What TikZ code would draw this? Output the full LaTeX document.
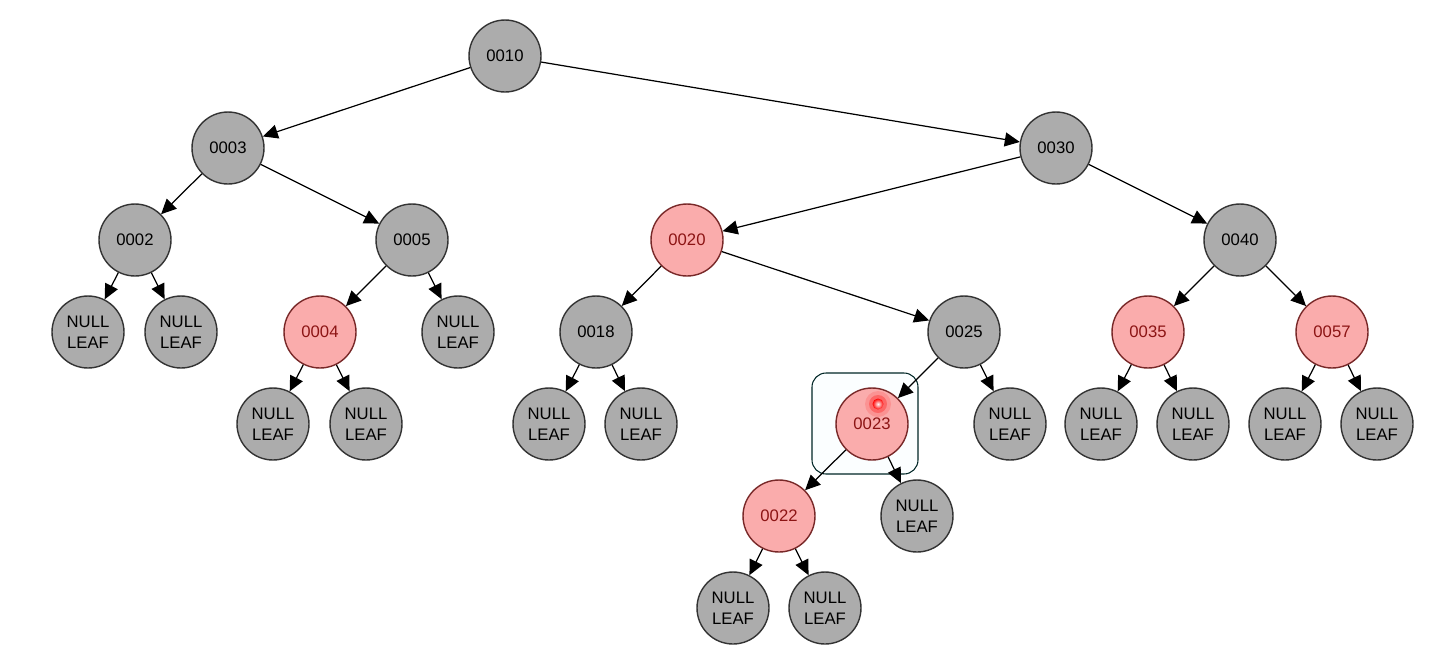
\documentclass[tikz,border=0pt]{standalone}
\usepackage{fontspec}
\setmainfont{Liberation Sans}
\usetikzlibrary{arrows.meta, positioning}

\definecolor{nodegray}{RGB}{172,172,172}
\definecolor{nodepink}{RGB}{250,172,172}
\definecolor{pinkline}{RGB}{120,40,40}
\definecolor{pinktext}{RGB}{140,20,20}

\begin{document}
\begin{tikzpicture}[
    x=0.02cm, y=-0.02cm,
    every node/.style={font=\fontsize{9.5}{12}\selectfont},
    blk/.style={circle, draw=black!80, fill=nodegray, line width=0.8pt,
                minimum size=1.44cm, inner sep=0pt, align=center},
    rd/.style={blk, draw=pinkline, fill=nodepink, text=pinktext},
    nil/.style={blk},
    arr/.style={-{Triangle[length=3mm, width=2.8mm]}, line width=0.7pt, color=black},
]
    \useasboundingbox (0,0) rectangle (1438,657);

    % selection box behind 0023
    \draw[rounded corners=8pt, draw=black!70!teal, fill=cyan!1.5, line width=0.6pt]
        (812,373) rectangle (918,474);

    % level 0-2
    \node[blk] (n10) at (505,56) {0010};
    \node[blk] (n3) at (228,148) {0003};
    \node[blk] (n30) at (1056,148) {0030};
    \node[blk] (n2) at (135,240) {0002};
    \node[blk] (n5) at (412,240) {0005};
    \node[rd] (n20) at (687,240) {0020};
    \node[blk] (n40) at (1240,240) {0040};

    % level 3
    \node[nil] (l2a) at (88,332) {NULL\\LEAF};
    \node[nil] (l2b) at (181,332) {NULL\\LEAF};
    \node[rd] (n4) at (320,332) {0004};
    \node[nil] (l5) at (458,332) {NULL\\LEAF};
    \node[blk] (n18) at (596,332) {0018};
    \node[blk] (n25) at (964,332) {0025};
    \node[rd] (n35) at (1148,332) {0035};
    \node[rd] (n57) at (1332,332) {0057};

    % level 4
    \node[nil] (l4a) at (273,424) {NULL\\LEAF};
    \node[nil] (l4b) at (366,424) {NULL\\LEAF};
    \node[nil] (l18a) at (549,424) {NULL\\LEAF};
    \node[nil] (l18b) at (641,424) {NULL\\LEAF};
    \node[rd] (n23) at (872,424) {0023};
    \node[nil] (l25) at (1010,424) {NULL\\LEAF};
    \node[nil] (l35a) at (1101,424) {NULL\\LEAF};
    \node[nil] (l35b) at (1193,424) {NULL\\LEAF};
    \node[nil] (l57a) at (1285,424) {NULL\\LEAF};
    \node[nil] (l57b) at (1377,424) {NULL\\LEAF};

    % level 5-6
    \node[rd] (n22) at (779,516) {0022};
    \node[nil] (l23) at (917,516) {NULL\\LEAF};
    \node[nil] (l22a) at (733,608) {NULL\\LEAF};
    \node[nil] (l22b) at (825,608) {NULL\\LEAF};

    % cursor mark
    \fill[red!80, opacity=0.2] (878,404) circle (13);
    \fill[red!85, opacity=0.4] (878,404) circle (9);
    \shade[inner color=white, outer color=red, opacity=0.95] (878,404) circle (5.5);

    \draw[arr] (n10) -- (n3);
    \draw[arr] (n10) -- (n30);
    \draw[arr] (n3) -- (n2);
    \draw[arr] (n3) -- (n5);
    \draw[arr] (n30) -- (n20);
    \draw[arr] (n30) -- (n40);
    \draw[arr] (n2) -- (l2a);
    \draw[arr] (n2) -- (l2b);
    \draw[arr] (n5) -- (n4);
    \draw[arr] (n5) -- (l5);
    \draw[arr] (n20) -- (n18);
    \draw[arr] (n20) -- (n25);
    \draw[arr] (n40) -- (n35);
    \draw[arr] (n40) -- (n57);
    \draw[arr] (n4) -- (l4a);
    \draw[arr] (n4) -- (l4b);
    \draw[arr] (n18) -- (l18a);
    \draw[arr] (n18) -- (l18b);
    \draw[arr] (n25) -- (n23);
    \draw[arr] (n25) -- (l25);
    \draw[arr] (n35) -- (l35a);
    \draw[arr] (n35) -- (l35b);
    \draw[arr] (n57) -- (l57a);
    \draw[arr] (n57) -- (l57b);
    \draw[arr] (n23) -- (n22);
    \draw[arr] (n23) -- (l23);
    \draw[arr] (n22) -- (l22a);
    \draw[arr] (n22) -- (l22b);
\end{tikzpicture}
\end{document}
